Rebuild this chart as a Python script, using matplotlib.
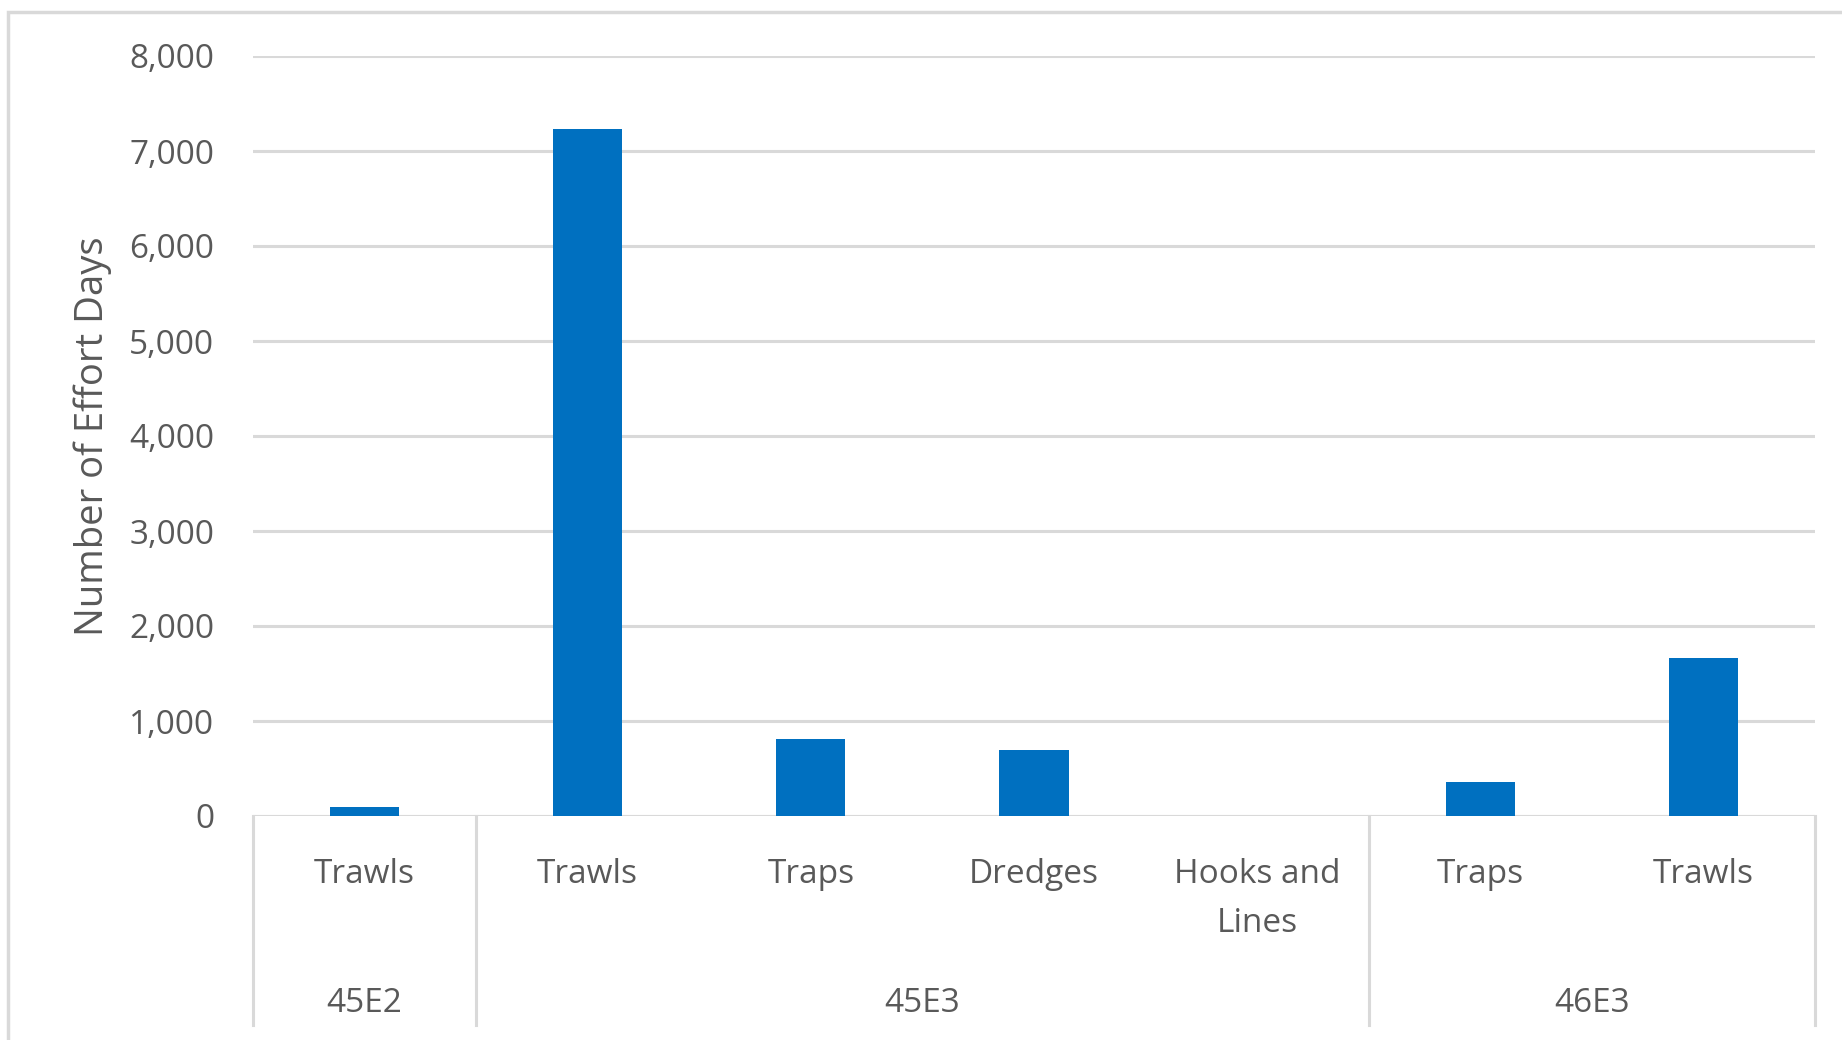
import matplotlib
matplotlib.use("Agg")
import matplotlib.pyplot as plt
from matplotlib.patches import Rectangle
from matplotlib.lines import Line2D
from matplotlib.ticker import FuncFormatter

plt.rcParams['font.family'] = ['Open Sans', 'DejaVu Sans']

# Effort days by ICES rectangle and gear type
rectangles = ["45E2", "45E3", "46E3"]
rect_sizes = [1, 4, 2]
gears = ["Trawls", "Trawls", "Traps", "Dredges", "Hooks and\nLines", "Traps", "Trawls"]
effort_days = [100, 7230, 815, 690, 0, 360, 1665]
y_ticks = [0, 1000, 2000, 3000, 4000, 5000, 6000, 7000, 8000]

W, H = 1842, 1040
BAR = "#0070C0"
GRID = "#D9D9D9"
TXT = "#595959"

fig = plt.figure(figsize=(W / 100, H / 100), dpi=100)

# plot area in pixels
left, right, top, bottom = 253, 1815, 56, 816
ax = fig.add_axes([left / W, (H - bottom) / H, (right - left) / W, (bottom - top) / H])

x = list(range(len(gears)))
ax.bar(x, effort_days, width=0.31, color=BAR, zorder=3)
ax.set_xlim(-0.5, len(gears) - 0.5)
ax.set_ylim(0, 8000)
ax.set_yticks(y_ticks)
ax.yaxis.set_major_formatter(FuncFormatter(lambda v, p: f"{int(v):,}"))
ax.tick_params(axis='y', length=0, pad=28, labelsize=24, labelcolor=TXT)
ax.set_xticks([])
ax.grid(axis='y', color=GRID, linewidth=2.2, zorder=0)
for s in ax.spines.values():
    s.set_visible(False)
ax.axhline(0, color=GRID, linewidth=2.2, zorder=2)

ax.set_ylabel("Number of Effort Days", fontsize=27.5, color=TXT, labelpad=12)

# two-level category axis
xt = ax.get_xaxis_transform()
def yfrac(py):
    return (bottom - py) / (bottom - top)

for i, g in enumerate(gears):
    ax.text(i, yfrac(858), g, transform=xt, ha='center', va='top',
            fontsize=24, color=TXT, linespacing=1.62, clip_on=False)

start = 0
bounds = [-0.5]
for name, n in zip(rectangles, rect_sizes):
    center = start + (n - 1) / 2
    ax.text(center, yfrac(1003), name, transform=xt, ha='center', va='center',
            fontsize=24, color=TXT, clip_on=False)
    start += n
    bounds.append(start - 0.5)

for b in bounds:
    ax.add_line(Line2D([b, b], [0, yfrac(1025)], transform=xt, color=GRID,
                       linewidth=2.2, clip_on=False))

# chart area border
fig.patches.append(Rectangle((8 / W, -0.1), 1.2, (H - 12) / H + 0.1,
                             transform=fig.transFigure, fill=False,
                             edgecolor=GRID, linewidth=2.5))

fig.savefig("out.png", dpi=100, facecolor="white")
